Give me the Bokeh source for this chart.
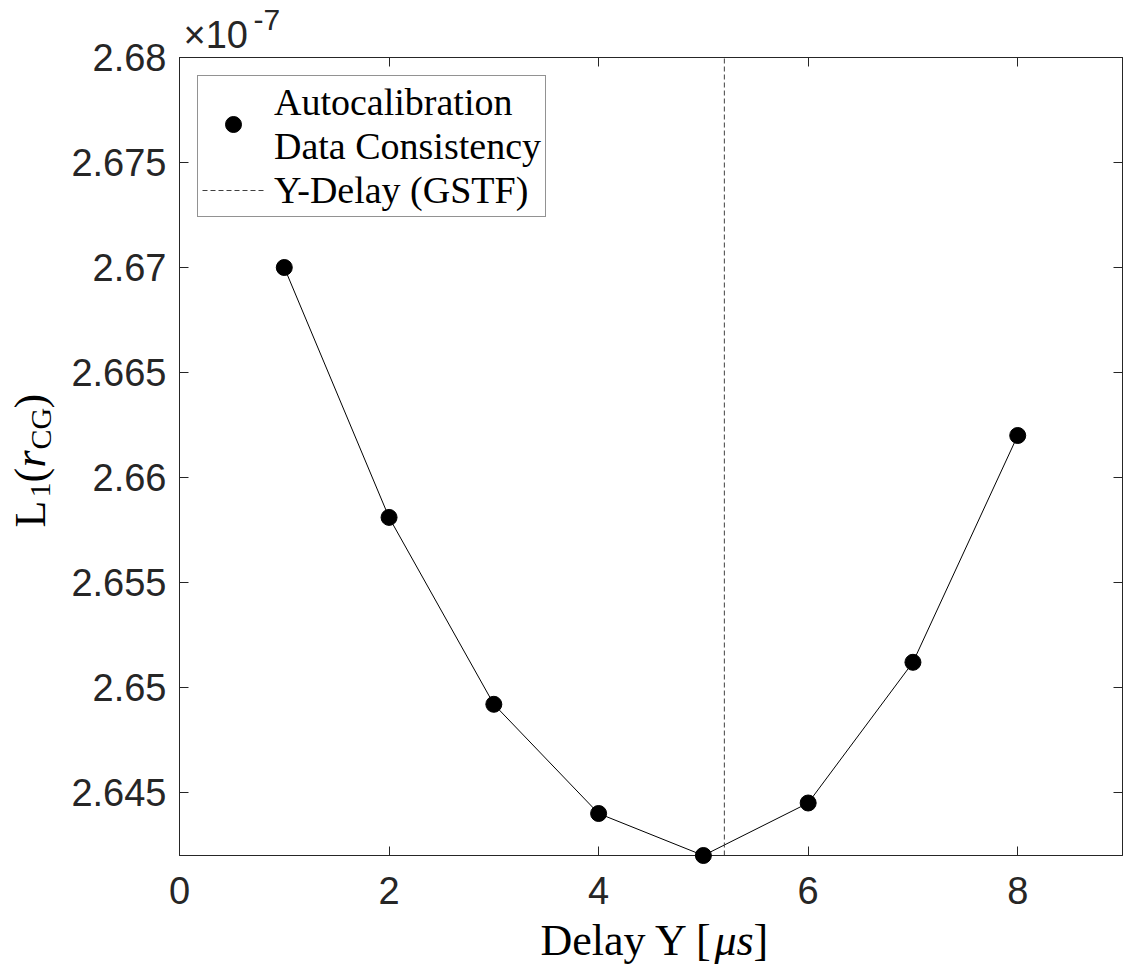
import numpy as np
from bokeh.plotting import figure
from bokeh.models import Range1d, FixedTicker, LinearAxis, Legend, LegendItem, Label
from bokeh.layouts import column, row
from bokeh.embed import file_html
from bokeh.resources import INLINE

# ---- data (y values in units of 1e-7) ----
delay_y_us = [1, 2, 3, 4, 5, 6, 7, 8]
l1_rcg_e7 = [2.6700, 2.6581, 2.6492, 2.6440, 2.6420, 2.6445, 2.6512, 2.6620]
gstf_delay_us = 5.2
x_ticks = [0, 2, 4, 6, 8]
x_tick_labels = ["0", "2", "4", "6", "8"]
y_ticks = [2.645, 2.65, 2.655, 2.66, 2.665, 2.67, 2.675, 2.68]
y_tick_labels = ["2.645", "2.65", "2.655", "2.66", "2.665", "2.67", "2.675", "2.68"]
x_limits = [0, 9]
y_limits = [min(l1_rcg_e7), 2.68]
series_labels = ["Autocalibration\nData Consistency", "Y-Delay (GSTF)"]

AX = "#262626"
SANS = "Liberation Sans"
SERIF = "Liberation Serif"

W, H = 1124, 966
TOP_H, LEFT_W = 62, 62
OVERLAP = 27                      # main row is pulled up under the top strip
ROW_TOP = TOP_H - OVERLAP         # page y where the row starts
FRAME_TOP, FRAME_BOTTOM = 57, 855  # page y of the plot frame
MAIN_BOTTOM = 917
MAIN_H = MAIN_BOTTOM - ROW_TOP
BOTTOM_H = H - MAIN_BOTTOM

# ---------------- main plot ----------------
p = figure(width=W - LEFT_W, height=MAIN_H, output_backend="svg", toolbar_location=None,
           x_range=Range1d(*x_limits), y_range=Range1d(*y_limits),
           x_axis_location=None, y_axis_location=None,
           min_border_left=179 - LEFT_W, min_border_right=2,
           min_border_top=FRAME_TOP - ROW_TOP, min_border_bottom=MAIN_BOTTOM - FRAME_BOTTOM)
p.grid.visible = False
p.outline_line_color = AX
p.outline_line_width = 1
p.background_fill_color = "white"
p.border_fill_alpha = 0

bottom_ax, left_ax, top_ax, right_ax = LinearAxis(), LinearAxis(), LinearAxis(), LinearAxis()
p.add_layout(bottom_ax, "below")
p.add_layout(left_ax, "left")
p.add_layout(top_ax, "above")
p.add_layout(right_ax, "right")

for ax, ticks, labels in [(bottom_ax, x_ticks, x_tick_labels), (top_ax, x_ticks, x_tick_labels),
                          (left_ax, y_ticks, y_tick_labels), (right_ax, y_ticks, y_tick_labels)]:
    ax.ticker = FixedTicker(ticks=ticks)
    ax.major_label_overrides = {t: l for t, l in zip(ticks, labels)}
    ax.major_tick_in = 9
    ax.major_tick_out = 0
    ax.minor_tick_line_color = None
    ax.axis_line_color = AX
    ax.major_tick_line_color = AX
    ax.major_label_text_font = SANS
    ax.major_label_text_font_size = "38px"
    ax.major_label_text_color = AX

for ax in (top_ax, right_ax):
    ax.major_label_text_color = None
    ax.major_label_standoff = 0

bottom_ax.major_label_standoff = 21
left_ax.major_label_standoff = 13

line_r = p.line(delay_y_us, l1_rcg_e7, line_color="black", line_width=1)
pts_r = p.scatter(delay_y_us, l1_rcg_e7, size=16, marker="circle",
                  fill_color="black", line_color="black", level="overlay")
vline_r = p.line([gstf_delay_us, gstf_delay_us], y_limits, line_color="#404040",
                 line_width=1, line_dash="5 3")

legend = Legend(items=[LegendItem(label=series_labels[0], renderers=[pts_r]),
                       LegendItem(label=series_labels[1], renderers=[vline_r])],
                location="top_left", margin=18, padding=4, spacing=0,
                glyph_width=62, glyph_height=40, label_standoff=10,
                label_text_font=SERIF, label_text_font_size="38px",
                label_text_line_height=0.85, label_text_color="black",
                border_line_color=AX, border_line_width=1,
                background_fill_color="white", background_fill_alpha=1)
p.add_layout(legend)


# ---------------- text strips ----------------
def strip(w, h, transparent=False):
    f = figure(width=w, height=h, output_backend="svg", toolbar_location=None,
               x_range=Range1d(0, w), y_range=Range1d(0, h),
               x_axis_location=None, y_axis_location=None, min_border=0)
    f.outline_line_color = None
    f.grid.visible = False
    if transparent:
        f.background_fill_alpha = 0
        f.border_fill_alpha = 0
    else:
        f.background_fill_color = "white"
        f.border_fill_color = "white"
    return f


def lab(f, text, x, y, size, font=SERIF, style="normal", angle=0.0, color="black"):
    px = float(size.replace("px", ""))
    shift = 0.35 * px  # compensate the renderer's baseline offset
    if angle:
        x -= shift
    else:
        y += shift
    f.add_layout(Label(text=text, x=x, y=y, x_units="screen", y_units="screen",
                       text_font=font, text_font_size=size, text_font_style=style,
                       text_color=color, text_align="left", text_baseline="alphabetic",
                       angle=angle, angle_units="rad"))


top = strip(W, TOP_H)
lab(top, "\u00d710", 183, TOP_H - 48, "38px", font=SANS, color=AX)
lab(top, "-7", 253, TOP_H - 30, "30px", font=SANS, color=AX)

# left strip: its frame is aligned with the main frame (page y 57..855)
left = strip(LEFT_W, MAIN_H, transparent=True)
a = np.pi / 2
lab(left, "L", 45, FRAME_BOTTOM - 527, "44px", angle=a)
lab(left, "1", 50, FRAME_BOTTOM - 497, "30px", angle=a)
lab(left, "(", 45, FRAME_BOTTOM - 482, "44px", angle=a)
lab(left, "r", 45, FRAME_BOTTOM - 467, "44px", style="italic", angle=a)
lab(left, "CG", 50, FRAME_BOTTOM - 449, "30px", angle=a)
lab(left, ")", 45, FRAME_BOTTOM - 408, "44px", angle=a)

bottom = strip(W, BOTTOM_H)
lab(bottom, "Delay Y [", 540, H - 955, "44px")
lab(bottom, "\u03bcs", 714, H - 955, "44px", style="italic")
lab(bottom, "]", 753, H - 955, "44px")

layout = column(top, row(left, p, margin=(-OVERLAP, 0, 0, 0)), bottom)

open("out.html", "w").write(file_html(layout, INLINE))
